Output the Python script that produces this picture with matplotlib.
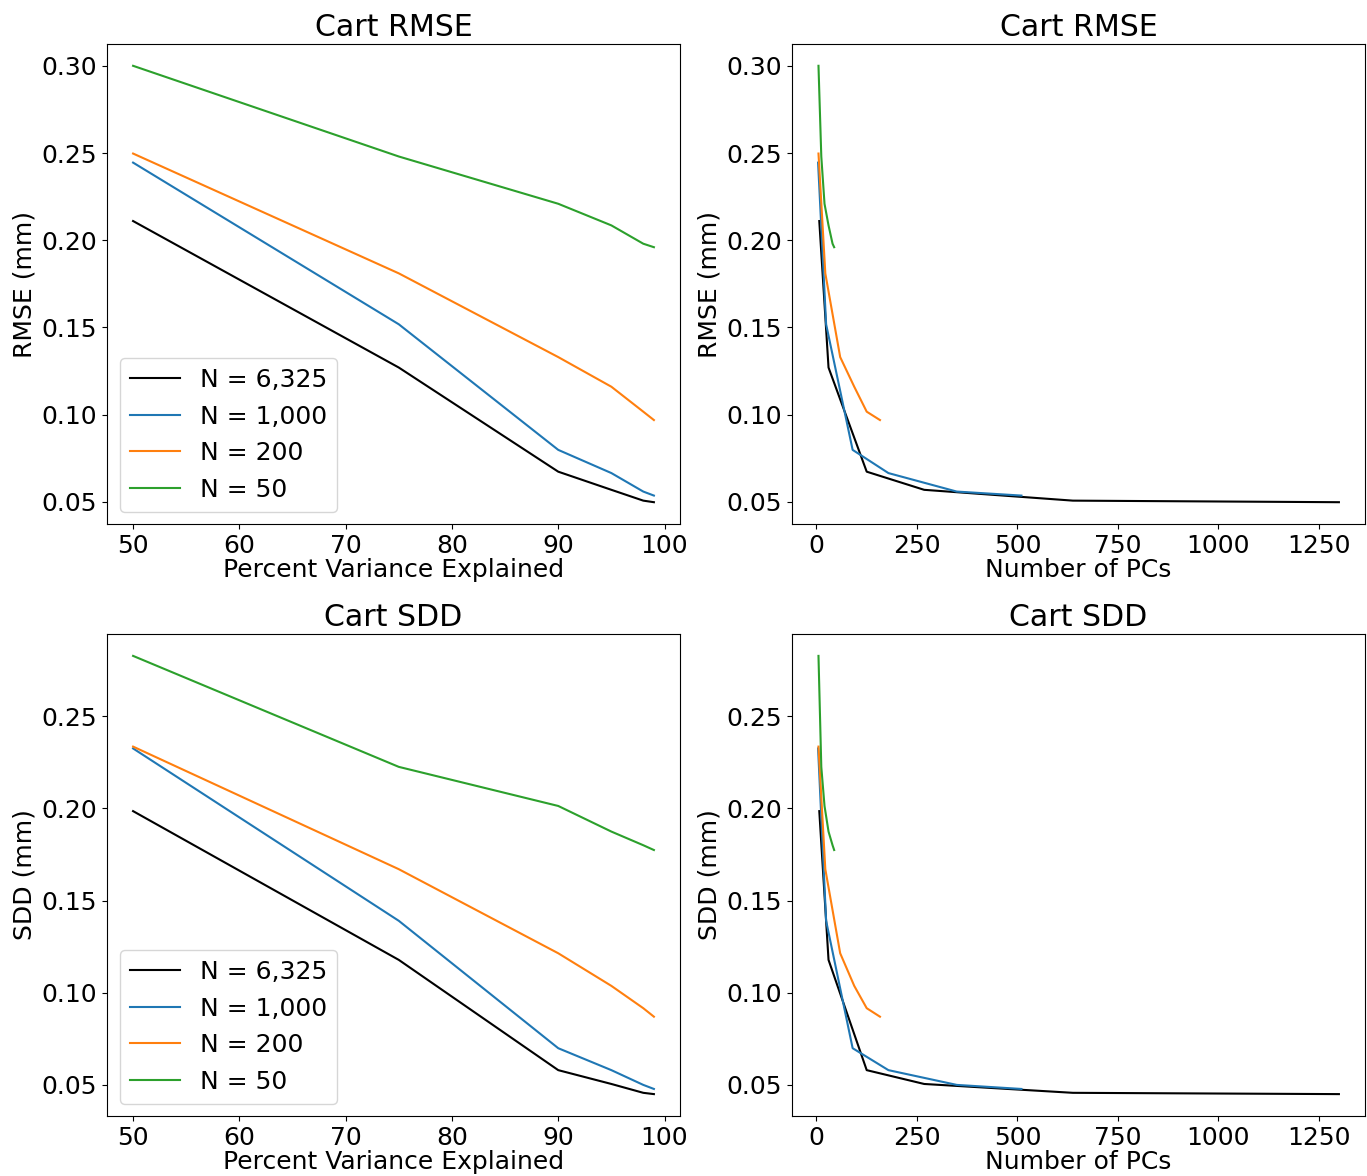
import matplotlib.pyplot as plt

plt.rcParams['font.size'] = 18

# percent variance explained levels
pve = [50, 75, 90, 95, 98, 99]

labels = ['N = 6,325', 'N = 1,000', 'N = 200', 'N = 50']
colors = ['k', 'tab:blue', 'tab:orange', 'tab:green']

# number of PCs needed for each PVE level
pcs_6325 = [7, 30, 125, 268, 638, 1300]
pcs_1000 = [4, 24, 90, 179, 349, 510]
pcs_200 = [5, 22, 59, 94, 125, 158]
pcs_50 = [5, 12, 20, 30, 40, 44]

rmse_6325 = [0.211, 0.127, 0.0673, 0.0569, 0.0507, 0.0498]
rmse_1000 = [0.2445, 0.1518, 0.0798, 0.0665, 0.0559, 0.0536]
rmse_200 = [0.2497, 0.181, 0.133, 0.116, 0.1017, 0.0969]
rmse_50 = [0.300, 0.248, 0.2209, 0.2085, 0.198, 0.196]

sdd_6325 = [0.1985, 0.1178, 0.058, 0.0505, 0.0457, 0.045]
sdd_1000 = [0.2325, 0.139, 0.0699, 0.058, 0.050, 0.0478]
sdd_200 = [0.2335, 0.167, 0.1214, 0.1037, 0.0916, 0.087]
sdd_50 = [0.2827, 0.2225, 0.2013, 0.1874, 0.180, 0.1774]

pcs = [pcs_6325, pcs_1000, pcs_200, pcs_50]
rmse = [rmse_6325, rmse_1000, rmse_200, rmse_50]
sdd = [sdd_6325, sdd_1000, sdd_200, sdd_50]

fig = plt.figure(figsize=(13.67, 11.76), dpi=100)
ax1 = fig.add_axes([0.0783, 0.5544, 0.4191, 0.4082])
ax2 = fig.add_axes([0.5794, 0.5544, 0.4191, 0.4082])
ax3 = fig.add_axes([0.0783, 0.0510, 0.4191, 0.4099])
ax4 = fig.add_axes([0.5794, 0.0510, 0.4191, 0.4099])

for i in range(4):
    ax1.plot(pve, rmse[i], color=colors[i], label=labels[i], lw=1.5)
    ax2.plot(pcs[i], rmse[i], color=colors[i], lw=1.5)
    ax3.plot(pve, sdd[i], color=colors[i], label=labels[i], lw=1.5)
    ax4.plot(pcs[i], sdd[i], color=colors[i], lw=1.5)

for ax in [ax1, ax2]:
    ax.set_title('Cart RMSE')
    ax.set_ylabel('RMSE (mm)')
for ax in [ax3, ax4]:
    ax.set_title('Cart SDD')
    ax.set_ylabel('SDD (mm)')
for ax in [ax1, ax3]:
    ax.set_xlabel('Percent Variance Explained', labelpad=0)
    ax.legend(loc='lower left')
for ax in [ax2, ax4]:
    ax.set_xlabel('Number of PCs', labelpad=0)

for ax in [ax3, ax4]:
    ax.set_yticks([0.05, 0.10, 0.15, 0.20, 0.25])

plt.savefig('out.png')
